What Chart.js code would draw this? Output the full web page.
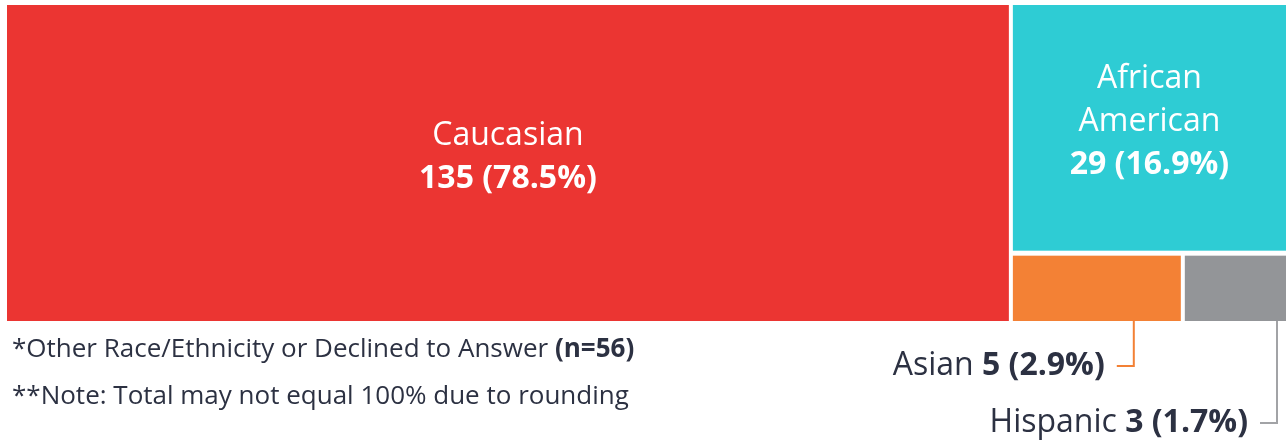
<!DOCTYPE html>
<html>
<head>
<meta charset="utf-8">
<script src="https://cdn.jsdelivr.net/npm/chart.js@4.4.1/dist/chart.umd.min.js"></script>
<style>
  html, body { margin: 0; padding: 0; background: #fff; }
  #wrap { position: relative; width: 1286px; height: 441px; }
  .nota { position: absolute; left: 12px; font-family: 'Open Sans', sans-serif; font-size: 26px; color: #2c3142; white-space: nowrap; line-height: 30px; }
  .nota b { font-weight: 700; }
</style>
</head>
<body>
<div id="wrap">
  <canvas id="grafico" width="1286" height="441"></canvas>
  <div class="nota" style="top:332px">*Other Race/Ethnicity or Declined to Answer <b>(n=56)</b></div>
  <div class="nota" style="top:379px">**Note: Total may not equal 100% due to rounding</div>
</div>
<script>
// dados
const categorias = ['Caucasian', 'African American', 'Asian', 'Hispanic'];
const quantidades = [135, 29, 5, 3];
const percentuais = ['78.5%', '16.9%', '2.9%', '1.7%'];
const cores = ['#EB3532', '#2ECCD4', '#F38135', '#939598'];
const corTexto = '#2c3142';
const fonte = "'Open Sans', sans-serif";

const total = quantidades.reduce((a, b) => a + b, 0);

// monta o treemap alternando o corte (x, y, x, y...) em unidades de valor
function montarLayout(valores) {
  var resto = { x0: 0, x1: total, y0: 0, y1: 1 };
  var restante = total;
  var blocos = [];
  for (var i = 0; i < valores.length; i++) {
    var frac = valores[i] / restante;
    var r;
    if (i % 2 === 0) {
      var w = (resto.x1 - resto.x0) * frac;
      r = { x0: resto.x0, x1: resto.x0 + w, y0: resto.y0, y1: resto.y1 };
      resto.x0 += w;
    } else {
      var h = (resto.y1 - resto.y0) * frac;
      r = { x0: resto.x0, x1: resto.x1, y0: resto.y0, y1: resto.y0 + h };
      resto.y0 += h;
    }
    restante -= valores[i];
    blocos.push(r);
  }
  return blocos;
}

const layout = montarLayout(quantidades);

function quebrarTexto(ctx, texto, largura) {
  if (ctx.measureText(texto).width <= largura) return [texto];
  return texto.split(' ');
}

const pluginTreemap = {
  id: 'treemap',
  afterDatasetsDraw(chart) {
    const ctx = chart.ctx;
    const sx = chart.scales.x, sy = chart.scales.y;
    const area = chart.chartArea;
    const gap = 2;
    var externos = 0;

    ctx.save();
    layout.forEach((r, i) => {
      var left = sx.getPixelForValue(r.x0);
      var right = sx.getPixelForValue(r.x1);
      var top = sy.getPixelForValue(r.y0);
      var bottom = sy.getPixelForValue(r.y1);
      if (left > area.left + 1) left += gap;
      if (right < area.right - 1) right -= gap;
      if (top > area.top + 1) top += gap + 1;
      if (bottom < area.bottom - 1) bottom -= gap;

      ctx.fillStyle = cores[i];
      ctx.fillRect(left, top, right - left, bottom - top);

      var w = right - left, h = bottom - top;
      if (h > 100) {
        // rotulo dentro do bloco
        ctx.font = '32px ' + fonte;
        var linhas = quebrarTexto(ctx, categorias[i], w - 60);
        var numero = quantidades[i] + ' (' + percentuais[i] + ')';
        var passo = 43;
        var n = linhas.length + 1;
        var cx = (left + right) / 2;
        var y0 = (top + bottom) / 2 - (n - 1) * passo / 2 - 6;
        ctx.fillStyle = '#fff';
        ctx.textAlign = 'center';
        ctx.textBaseline = 'middle';
        linhas.forEach((l, k) => ctx.fillText(l, cx, y0 + k * passo));
        ctx.font = 'bold 32px ' + fonte;
        ctx.fillText(numero, cx, y0 + linhas.length * passo);
      } else {
        // rotulo fora, com linha de ligacao
        var yLab = area.bottom + 45 + externos * 57;
        var xLinha = externos === 0 ? left + w * 0.72 : right - 9;
        ctx.strokeStyle = externos === 0 ? cores[i] : '#a2a3a6';
        ctx.lineWidth = 2;
        ctx.beginPath();
        ctx.moveTo(xLinha, bottom);
        ctx.lineTo(xLinha, yLab);
        ctx.lineTo(xLinha - 17, yLab);
        ctx.stroke();

        var parteNum = quantidades[i] + ' (' + percentuais[i] + ')';
        var parteNome = categorias[i] + ' ';
        ctx.textBaseline = 'middle';
        ctx.textAlign = 'left';
        ctx.font = 'bold 32px ' + fonte;
        var wNum = ctx.measureText(parteNum).width;
        ctx.font = '32px ' + fonte;
        var wNome = ctx.measureText(parteNome).width;
        var xFim = xLinha - 29;
        ctx.fillStyle = corTexto;
        ctx.fillText(parteNome, xFim - wNum - wNome, yLab);
        ctx.font = 'bold 32px ' + fonte;
        ctx.fillText(parteNum, xFim - wNum, yLab);
        externos++;
      }
    });
    ctx.restore();
  }
};

const grafico = new Chart(document.getElementById('grafico'), {
  type: 'scatter',
  data: {
    datasets: [{ label: 'treemap', data: [] }]
  },
  options: {
    responsive: false,
    animation: false,
    layout: { padding: { left: 7, right: 0, top: 5, bottom: 120 } },
    plugins: { legend: { display: false }, tooltip: { enabled: false } },
    scales: {
      x: { type: 'linear', min: 0, max: total, display: false },
      y: { type: 'linear', min: 0, max: 1, reverse: true, display: false }
    }
  },
  plugins: [pluginTreemap]
});
</script>
</body>
</html>
